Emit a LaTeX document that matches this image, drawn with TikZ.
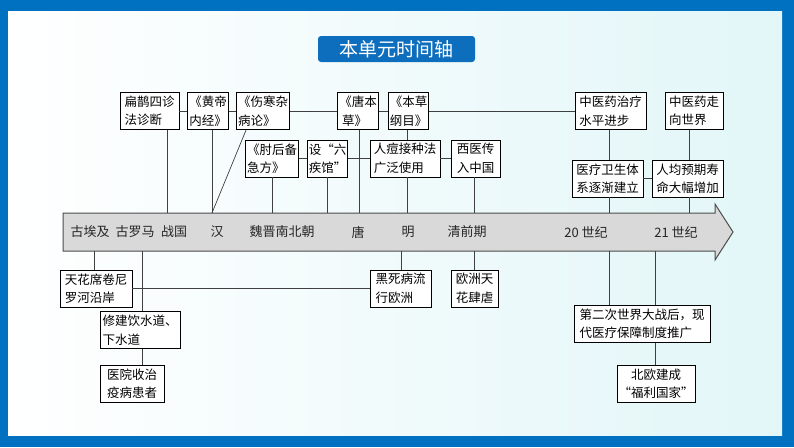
\documentclass[tikz,border=0pt]{standalone}
\usepackage{fontspec}
\setmainfont{Noto Sans CJK SC}
\definecolor{frameblue}{RGB}{0,112,192}
\definecolor{titleblue}{RGB}{14,110,190}
\definecolor{tlgray}{RGB}{217,217,217}
\definecolor{paleteal}{RGB}{226,246,248}
\tikzset{
  evbox/.style={draw=black, line width=0.8pt, fill=white, inner xsep=1.5pt, inner ysep=2pt,
    align=left, font=\fontsize{12.5}{18.5}\selectfont, minimum height=37pt},
  link/.style={draw=black!75, line width=0.7pt},
  era/.style={font=\fontsize{13}{13}\selectfont, text=black!85},
  titlebox/.style={fill=titleblue, rounded corners=3pt, text=white,
    font=\fontsize{19}{19}\selectfont, minimum width=157pt, minimum height=26pt}
}
\begin{document}
\begin{tikzpicture}[x=1pt,y=-1pt]
\useasboundingbox (0,0) rectangle (794,447);
% -- Frame --
\fill[frameblue] (0,0) rectangle (794,447);
\shade[left color=white, middle color=white, right color=paleteal] (8,11) rectangle (782,435);
\node[titlebox] (title) at (396.5,49) {本单元时间轴};
% -- Timeline arrow --
\filldraw[fill=tlgray, draw=black!70, line width=1pt]
  (63,213) -- (715,213) -- (715,204) -- (733,232) -- (715,260) -- (715,251) -- (63,251) -- cycle;
\foreach \t/\x in {古埃及/90, 古罗马/135, 战国/174, 汉/217, 魏晋南北朝/282,
  唐/358, 明/408, 清前期/467, 20 世纪/586, 21 世纪/676} {
  \node[era] (era-\x) at (\x,232) {\t};
}
% feet on the timeline
\foreach \n/\x in {bq/167, hd/212, zh/272, lj/327, tb/359, rd/407, xy/474, yl/609, rj/689}
  \coordinate (up-\n) at (\x,213);
\foreach \n/\x in {th/94, xj/142, hs/401, om/474, ez1/609, ez2/655}
  \coordinate (dn-\n) at (\x,251);
% -- Top row --
\node[evbox, minimum width=59pt] (bianque) at (149.5,111) {扁鹊四诊\\法诊断};
\node[evbox, minimum width=40pt] (huangdi) at (208,111) {《黄帝\\内经》};
\node[evbox, minimum width=52pt] (shanghan) at (263,111) {《伤寒杂\\病论》};
\node[evbox, minimum width=40pt] (tangbencao) at (358,111) {《唐本\\\ 草》};
\node[evbox, minimum width=39pt] (bencao) at (408.5,111) {《本草\\纲目》};
\node[evbox, minimum width=71pt] (zhongyi) at (610.5,111) {中医药治疗\\水平进步};
\node[evbox, minimum width=58pt] (zouxiang) at (694,111) {中医药走\\向世界};
% -- Second row --
\node[evbox, minimum width=52pt] (zhouhou) at (272,158.5) {《肘后备\\急方》};
\node[evbox, minimum width=39pt] (liuji) at (327.5,158.5) {设“六\\疾馆”};
\node[evbox, minimum width=70pt] (rendou) at (405,158.5) {人痘接种法\\广泛使用};
\node[evbox, minimum width=49pt] (xiyi) at (475.5,158.5) {西医传\\入中国};
\node[evbox, minimum width=71pt] (yiliao) at (607.5,178.5) {医疗卫生体\\系逐渐建立};
\node[evbox, minimum width=71pt] (renjun) at (687.5,178.5) {人均预期寿\\命大幅增加};
% -- Below the timeline --
\node[evbox, minimum width=72pt] (tianhua) at (96,288.5) {天花席卷尼\\罗河沿岸};
\node[evbox, minimum width=80pt] (xiujian) at (140,330) {修建饮水道、\\下水道};
\node[evbox, minimum width=64pt] (yiyuan) at (132,383.5) {医院收治\\疫病患者};
\node[evbox, minimum width=61pt] (heisi) at (400.5,288.5) {黑死病流\\行欧洲};
\node[evbox, minimum width=47pt] (oumei) at (474.5,288.5) {欧洲天\\花肆虐};
\node[evbox, minimum width=136pt] (erzhan) at (642,324) {第二次世界大战后，现\\代医疗保障制度推广};
\node[evbox, minimum width=74pt, align=center] (beiou) at (656,383.5) {北欧建成\\“福利国家”};
% -- Links between events --
\draw[link] (bianque.east) -- (huangdi.west);
\draw[link] (huangdi.east) -- (shanghan.west);
\draw[link] (shanghan.east) -- (tangbencao.west);
\draw[link] (tangbencao.east) -- (bencao.west);
\draw[link] (bencao.east) -- (zhongyi.west);
\draw[link] (zhouhou.east) -- (liuji.west);
\draw[link] (liuji.east) -- (rendou.west);
\draw[link] (rendou.east) -- (xiyi.west);
\draw[link] (yiliao.east) -- (renjun.west);
\draw[link] (tianhua.east) -- (heisi.west);
\draw[link] (up-rd |- bencao.south) -- (up-rd |- rendou.north);
\draw[link] (up-yl |- zhongyi.south) -- (up-yl |- yiliao.north);
\draw[link] (up-rj |- zouxiang.south) -- (up-rj |- renjun.north);
\draw[link] (dn-xj |- xiujian.south) -- (dn-xj |- yiyuan.north);
\draw[link] (dn-ez2 |- erzhan.south) -- (dn-ez2 |- beiou.north);
% -- Links to the timeline --
\foreach \b/\n in {bianque/bq, huangdi/hd, zhouhou/zh, liuji/lj, tangbencao/tb,
  rendou/rd, xiyi/xy, yiliao/yl, renjun/rj}
  \draw[link] (up-\n |- \b.south) -- (up-\n);
\draw[link] (shanghan.south west) ++(10,0) -- (up-hd);
\foreach \b/\n in {tianhua/th, xiujian/xj, heisi/hs, oumei/om, erzhan/ez1, erzhan/ez2}
  \draw[link] (dn-\n |- \b.north) -- (dn-\n);
\end{tikzpicture}
\end{document}
